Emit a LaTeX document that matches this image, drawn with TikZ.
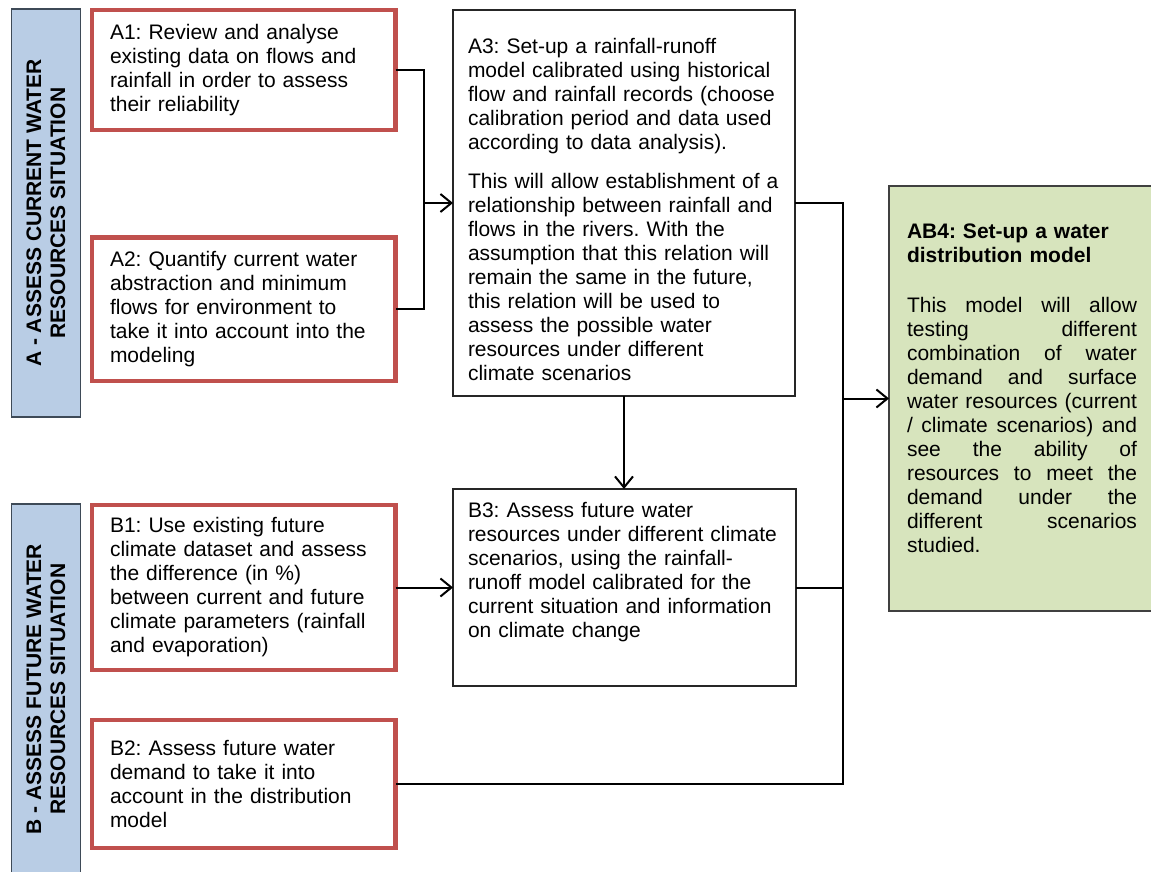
\documentclass[tikz,border=0pt]{standalone}
\usepackage{fontspec}
\setmainfont{Liberation Sans}
\usetikzlibrary{arrows.meta}
\definecolor{taskred}{HTML}{C0504D}
\definecolor{phaseblue}{HTML}{B9CDE5}
\definecolor{phaseedge}{HTML}{3E4A57}
\definecolor{resultgreen}{HTML}{D7E4BD}
\begin{document}
\begin{tikzpicture}[x=1pt,y=-1pt,
 every node/.style={font=\fontsize{21}{24}\selectfont\frenchspacing, outer sep=0pt},
 phasebox/.style={draw=phaseedge, line width=1.3pt, fill=phaseblue, rotate=90, align=center, minimum height=69pt, font=\fontsize{21}{24}\selectfont\bfseries},
 taskbox/.style={draw=taskred, line width=4.5pt, anchor=north west, align=left, text width=267.5pt, inner xsep=18pt, inner ysep=0pt},
 modelbox/.style={draw=black!85, line width=1.2pt, anchor=north west, align=left, text width=312pt, inner xsep=15pt, inner ysep=0pt},
 resultbox/.style={draw=black!75, line width=1.2pt, fill=resultgreen, anchor=north west, align=left, text width=230pt, inner xsep=18pt, inner ysep=0pt},
 link/.style={line width=2pt},
 linkto/.style={line width=2pt, -{Straight Barb[length=11pt,width=18pt]}}]
\useasboundingbox (0,0) rectangle (1151,872);
\clip (0,0) rectangle (1151,872);
\node[phasebox, minimum width=408pt] (phaseA) at (46,213) {A - ASSESS CURRENT WATER\\RESOURCES SITUATION};
\node[phasebox, minimum width=370pt] (phaseB) at (46,689) {B - ASSESS FUTURE WATER\\RESOURCES SITUATION};
\node[taskbox, minimum height=120pt] (a1) at (92,10) {A1: Review and analyse\\existing data on flows and\\rainfall in order to assess\\their reliability};
\node[taskbox, minimum height=143.5pt] (a2) at (92,237.5) {A2: Quantify current water\\abstraction and minimum\\flows for environment to\\take it into account into the\\modeling};
\node[taskbox, minimum height=165pt] (b1) at (92,505) {B1: Use existing future\\climate dataset and assess\\the difference (in \%)\\between current and future\\climate parameters (rainfall\\and evaporation)};
\node[taskbox, minimum height=128pt] (b2) at (92,720) {B2: Assess future water\\demand to take it into\\account in the distribution\\model};
\node[modelbox, text height=43.5pt, text depth=342.5pt] (a3) at (453,10) {A3: Set-up a rainfall-runoff\\model calibrated using historical\\flow and rainfall records (choose\\calibration period and data used\\according to data analysis).\\[15pt]This will allow establishment of a\\relationship between rainfall and\\flows in the rivers. With the\\assumption that this relation will\\remain the same in the future,\\this relation will be used to\\assess the possible water\\resources under different\\climate scenarios};
\node[modelbox, text width=313pt, text height=28pt, text depth=169pt] (b3) at (453,489) {B3: Assess future water\\resources under different climate\\scenarios, using the rainfall-\\runoff model calibrated for the\\current situation and information\\on climate change};
\node[resultbox, text height=52pt, text depth=373pt] (ab4) at (889,186) {\textbf{AB4: Set-up a water}\\\textbf{distribution model}\\[26pt]This\hfill model\hfill will\hfill allow\\testing\hfill different\\combination\hfill of\hfill water\\demand\hfill and\hfill surface\\water\hfill resources\hfill (current\\/\hfill climate\hfill scenarios)\hfill and\\see\hfill the\hfill ability\hfill of\\resources\hfill to\hfill meet\hfill the\\demand\hfill under\hfill the\\different\hfill scenarios\\studied.};
\coordinate (joinA) at (424,203);
\coordinate (joinB) at (843,398.5);
\draw[link] (a1.east) -| (joinA) |- (a2.east);
\draw[linkto] (joinA) -- (a3.west);
\draw[linkto] (a3.south) -- (a3.south |- b3.north);
\draw[linkto] (b1.east) -- (b3.west);
\draw[link] (a3.east) -| (joinB) |- (b2.east);
\draw[link] (b3.east) -- (b3.east -| joinB);
\draw[linkto] (joinB) -- (ab4.west);
\end{tikzpicture}
\end{document}
